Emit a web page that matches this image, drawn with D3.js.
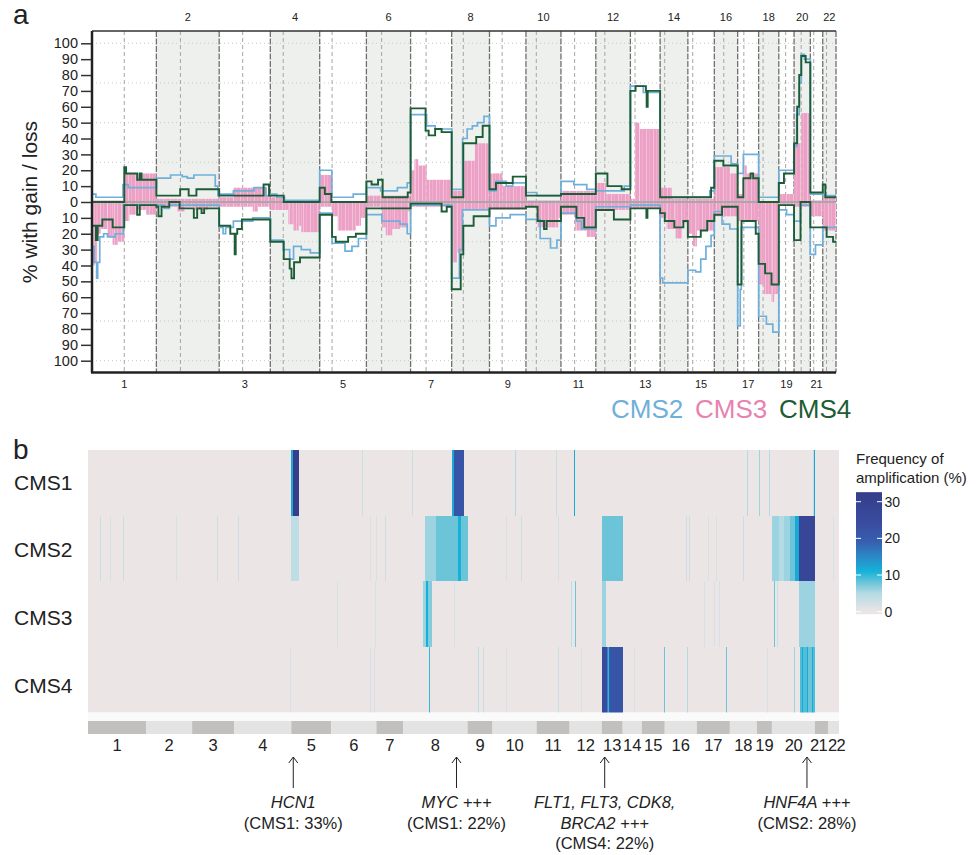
<!DOCTYPE html>
<html lang="en">
<head>
<meta charset="UTF-8">
<title>CMS copy number</title>
<script src="https://cdn.jsdelivr.net/npm/d3@7"></script>
<style>
    html, body { margin:0; background:#fff; }
    body { width:978px; height:855px; overflow:hidden; }
    svg { font-family: Arial, "Liberation Sans", Helvetica, sans-serif; }
</style>
</head>
<body>
<svg id="fig" width="978" height="855"></svg>
<script>
// ---- chromosomes (Mb) ----
var chromLen = [249.3, 243.2, 198.0, 191.2, 180.9, 171.1, 159.1, 146.4, 141.2, 135.5, 135.0,
                133.9, 115.2, 107.3, 102.5, 90.4, 81.2, 78.1, 59.1, 63.0, 48.1, 51.3];
var centromere = [125, 93, 91, 50, 48, 59, 60, 45, 49, 40, 53, 35, 18, 17.6, 19, 36.6, 24, 17.2, 26.5, 27.5, 13.2, 14.7];

// ---- panel a: % gain / loss, steps as [chr, start Mb, value] ----
var cms2Gain = [[1,0,5],[1,15,3],[1,120,11],[1,140,9],
  [2,0,15],[2,55,17],[2,100,16],[2,120,15],[2,145,17],[2,228,10],[2,238,4],
  [3,0,5],[3,55,7],[3,135,9],[3,180,4],[4,0,5],[4,25,3],[4,55,1],
  [5,0,20],[5,47,3],[5,130,5],[6,0,9],[6,55,7],[6,120,9],[6,158,12],
  [7,0,55],[7,62,48],[7,95,46],[8,0,8],[8,42,40],[8,60,46],[8,80,48],[8,100,50],[8,125,54],
  [9,0,7],[9,25,13],[9,65,10],[9,90,12],[10,0,6],[10,42,4],[11,0,13],[11,50,11],[11,100,8],
  [12,0,7],[12,110,10],[13,0,73],[13,50,69],[14,0,3],[15,0,3],[15,85,7],[16,0,29],[16,65,24],
  [17,0,18],[17,22,30],[18,0,3],[19,0,20],[20,0,35],[20,10,55],[20,20,75],[20,28,93],[20,40,90],
  [21,0,5],[22,0,4]];
var cms2Loss = [[1,0,-28],[1,8,-38],[1,18,-48],[1,22,-38],[1,30,-22],[1,45,-20],[1,60,-22],[1,90,-20],[1,122,-2],
  [2,0,-2],[2,30,-4],[2,50,-2],[3,0,-16],[3,15,-20],[3,25,-16],[3,55,-12],[3,130,-10],
  [4,0,-24],[4,50,-30],[4,75,-36],[4,90,-28],[4,120,-30],[4,155,-32],
  [5,0,-7],[5,48,-26],[5,98,-31],[5,125,-28],[5,150,-23],[6,0,-8],[6,60,-12],[6,130,-14],[6,158,-20],
  [7,0,-2],[8,0,-48],[8,30,-30],[8,42,-5],[9,0,-15],[9,25,-10],[9,80,-8],
  [10,0,-11],[10,55,-23],[10,95,-29],[10,120,-24],[11,0,-7],[11,60,-12],[11,80,-17],
  [12,0,-3],[13,0,-2],[14,0,-48],[14,10,-51],[15,0,-43],[15,30,-44],[15,50,-36],[15,70,-28],[15,90,-21],
  [16,0,-6],[16,30,-14],[16,60,-17],[17,0,-78],[17,10,-55],[17,14,-16],
  [18,0,-72],[18,30,-77],[18,55,-82],[19,0,-5],[19,30,-8],[20,0,-12],[20,25,-2],
  [21,0,-33],[21,20,-27],[22,0,-16]];
var cms3Gain = [[1,0,1],[1,125,18],[2,0,2],[3,0,3],[3,55,9],[3,185,4],[4,0,3],[4,55,0],
  [5,0,17],[5,45,0],[6,0,4],[7,0,20],[7,15,27],[7,30,23],[7,62,14],[8,0,7],[8,42,26],[8,90,37],
  [9,0,18],[9,50,10],[10,0,1],[11,0,7],[12,0,12],[12,40,5],[13,0,2],[13,18,50],[13,35,46],
  [14,0,9],[14,45,2],[15,0,2],[16,0,22],[16,60,18],[17,0,5],[17,20,23],[17,35,18],[18,0,0],
  [19,0,5],[20,0,37],[20,28,56],[21,0,1],[22,0,3]];
var cms3Loss = [[1,0,-40],[1,10,-38],[1,20,-20],[1,35,-17],[1,60,-22],[1,80,-27],[1,100,-25],[1,125,-12],[1,145,-8],[1,175,-5],[1,210,-8],
  [2,0,-3],[2,80,-6],[2,110,-3],[2,150,-5],[2,200,-3],[3,0,-3],[3,130,-6],[3,150,-3],
  [4,0,-5],[4,70,-14],[4,90,-18],[4,110,-15],[4,120,-19],[5,0,-3],[5,48,-9],[5,70,-18],[5,140,-15],[5,160,-10],
  [6,0,-3],[6,60,-16],[6,75,-21],[6,100,-17],[6,130,-16],[6,160,-6],[7,0,-3],
  [8,0,-38],[8,20,-32],[8,40,-5],[9,0,-5],[10,0,-3],[10,45,-16],[10,125,-10],
  [11,0,-8],[11,55,-18],[11,100,-22],[12,0,-5],[13,0,-4],[14,0,-10],[14,25,-17],[14,60,-23],[14,85,-13],
  [15,0,-20],[15,20,-28],[15,35,-18],[16,0,-9],[17,0,-12],[18,0,-52],[18,20,-58],[18,50,-63],[18,60,-58],
  [19,0,-2],[20,0,-3],[21,0,-9],[22,0,-18]];
var cms4Gain = [[1,0,0],[1,125,22],[1,132,18],[1,175,14],[1,185,18],[1,192,14],
  [2,0,4],[2,92,8],[2,125,4],[2,155,8],[3,0,4],[3,172,11],[3,193,4],[4,0,4],[4,52,0],
  [5,0,9],[5,20,5],[5,45,0],[6,0,13],[6,20,11],[6,45,14],[6,63,3],[6,160,6],
  [7,0,59],[7,58,45],[7,70,42],[7,95,46],[7,120,44],[8,0,3],[8,45,37],[8,95,41],[8,120,48],
  [9,0,8],[9,25,12],[9,90,16],[10,0,4],[11,0,5],[12,0,18],[12,45,10],[12,100,8],
  [13,0,70],[13,20,73],[13,60,70],[13,63,60],[13,67,70],[14,0,3],[15,0,3],[15,90,9],
  [16,0,26],[16,35,23],[17,0,3],[17,22,15],[17,50,18],[17,60,15],[18,0,0],[19,0,12],[19,20,18],
  [20,0,37],[20,12,60],[20,20,80],[20,28,92],[20,45,88],[21,0,6],[22,0,11],[22,10,3]];
var cms4Loss = [[1,0,-15],[1,15,-24],[1,22,-15],[1,40,-11],[1,80,-16],[1,125,-2],[1,175,-8],[1,185,-2],
  [2,0,-3],[2,8,-9],[2,20,-3],[2,50,0],[2,90,-4],[2,145,-10],[2,158,-4],[2,175,-7],[2,185,-4],
  [3,0,-15],[3,43,-20],[3,60,-33],[3,64,-20],[3,70,-17],[3,88,-11],
  [4,0,-25],[4,52,-36],[4,75,-42],[4,82,-48],[4,92,-38],[4,115,-35],
  [5,0,-8],[5,48,-22],[5,62,-25],[5,110,-22],[5,140,-20],[6,0,-4],[7,0,-1],[7,120,-6],[7,140,-3],
  [8,0,-55],[8,35,-33],[8,45,-15],[8,85,-9],[9,0,-4],[10,0,-3],[10,45,-12],[10,70,-17],[10,80,-12],
  [11,0,-3],[11,60,-10],[11,90,-16],[12,0,-5],[12,70,-11],[13,0,-4],[13,62,-10],[13,66,-4],
  [14,0,-7],[14,18,-12],[14,55,-16],[14,90,-12],[15,0,-22],[15,50,-18],[15,75,-12],
  [16,0,-8],[16,30,-3],[17,0,-52],[17,15,-12],[17,70,-20],[18,0,-39],[18,25,-45],[18,50,-52],
  [19,0,-2],[20,0,-24],[20,25,0],[21,0,-16],[22,0,-16],[22,15,-22],[22,40,-25]];

// ---- panel b: amplification frequency, [chr, start bin, end bin, %] ----
var hmChromSize = [58,46,42,57,40,45,27,64,25,44,33,32,21,19,23,32,33,27,15,43,13,11];
var hmRows = ["CMS1", "CMS2", "CMS3", "CMS4"];
var hmCMS1 = [[5,0,2,12],[5,2,8,33],[6,31,32,3],[8,9,10,3],[8,49,51,12],[8,51,60,22],[10,22,23,5],
  [11,19,20,3],[12,4,5,12],[18,17,18,5],[19,2,3,6],[19,12,13,5],[20,41,42,4],[20,42,43,12]];
var hmCMS2 = [[1,12,13,3],[1,22,23,2],[1,35,36,3],[2,30,31,2],[3,25,26,3],[4,4,5,3],[5,0,8,4],
  [6,39,40,2],[7,0,1,2],[7,9,10,3],[8,22,33,6],[8,33,55,8],[8,55,58,11],[8,58,64,8],
  [10,13,14,2],[10,28,29,3],[11,21,22,2],[13,0,21,8],[16,21,22,3],[16,24,25,3],[17,11,12,2],
  [17,19,20,2],[18,13,14,3],[20,0,7,6],[20,7,12,5],[20,12,18,6],[20,18,23,8],[20,23,27,12],
  [20,27,43,28],[22,5,6,2]];
var hmCMS3 = [[6,6,7,2],[6,44,45,2],[8,20,23,6],[8,23,25,11],[8,25,29,7],[8,51,52,2],[12,1,2,4],
  [12,5,6,8],[13,0,4,6],[17,7,8,2],[17,17,18,2],[17,22,23,2],[20,2,3,8],[20,5,6,3],[20,27,43,6]];
var hmCMS4 = [[4,56,57,2],[6,39,40,2],[6,43,44,2],[8,26,27,10],[9,10,11,4],[9,15,16,3],[10,13,14,2],
  [11,21,22,3],[12,11,12,2],[13,0,5,25],[13,5,6,15],[13,6,7,10],[13,7,8,20],[13,8,21,22],
  [14,11,12,2],[15,22,23,8],[16,22,23,5],[17,29,30,8],[19,10,11,2],[20,22,23,6],[20,28,30,9],
  [20,30,31,12],[20,31,35,9],[20,35,36,12],[20,36,40,8],[20,40,41,12],[20,41,43,9]];
var legendTicks = [0, 10, 20, 30];

var genes = [
  {chr:5, bin:2, lines:[["HCN1", true], ["(CMS1: 33%)", false]]},
  {chr:8, bin:53, lines:[["MYC +++", true], ["(CMS1: 22%)", false]]},
  {chr:13, bin:3, lines:[["FLT1, FLT3, CDK8,", true], ["BRCA2 +++", true], ["(CMS4: 22%)", false]]},
  {chr:20, bin:35, lines:[["HNF4A +++", true], ["(CMS2: 28%)", false]]}
];

var colCMS2 = "#6fb0db", colCMS3 = "#eca0c5", colCMS4 = "#1c5c36";

var svg = d3.select("#fig");
var defs = svg.append("defs");

// light streaks inside the CMS3 bars
var pat = defs.append("pattern").attr("id", "pinkStreak").attr("patternUnits", "userSpaceOnUse")
    .attr("width", 7).attr("height", 10);
pat.append("rect").attr("width", 7).attr("height", 10).attr("fill", colCMS3);
pat.append("rect").attr("x", 2).attr("width", 0.7).attr("height", 10).attr("fill", "#f6cfe1");
pat.append("rect").attr("x", 5.2).attr("width", 0.5).attr("height", 10).attr("fill", "#f3c0d8");

// ========== panel a ==========
var chromStart = [], acc = 0;
chromLen.forEach(function(l) { chromStart.push(acc); acc += l; });
var genomeLen = acc;

var x = d3.scaleLinear().domain([0, genomeLen]).range([92, 836]);
var y = d3.scaleLinear().domain([-100, 100]).range([360.7, 43.3]);
var plotTop = 31, plotBottom = 372.5;

function segs(data) {
    return data.map(function(d, i) {
        var nx = data[i + 1];
        var end = (nx && nx[0] === d[0]) ? nx[1] : chromLen[d[0] - 1];
        var off = chromStart[d[0] - 1];
        return {gs: off + d[1], ge: off + end, v: d[2]};
    });
}
function stepPts(sg) {
    var pts = sg.map(function(d) { return [d.gs, d.v]; });
    var last = sg[sg.length - 1];
    pts.push([last.ge, last.v]);
    return pts;
}
var stepLine = d3.line()
    .x(function(d) { return x(d[0]); })
    .y(function(d) { return y(d[1]); })
    .curve(d3.curveStepAfter);

var ga = svg.append("g");

// shading of even chromosomes
ga.selectAll("rect.shade")
    .data(chromLen.map(function(l, i) { return i; }).filter(function(i) { return i % 2 === 1; }))
    .enter().append("rect")
    .attr("x", function(i) { return x(chromStart[i]); })
    .attr("width", function(i) { return x(chromStart[i] + chromLen[i]) - x(chromStart[i]); })
    .attr("y", plotTop).attr("height", plotBottom - plotTop)
    .attr("fill", "#eef0ed");

// dotted grid
ga.selectAll("line.grid")
    .data([-100, -75, -50, -25, 25, 50, 75, 100])
    .enter().append("line")
    .attr("x1", x(0)).attr("x2", x(genomeLen))
    .attr("y1", function(d) { return y(d); }).attr("y2", function(d) { return y(d); })
    .attr("stroke", "#c8c8c8").attr("stroke-dasharray", "1,3");

// centromeres
ga.selectAll("line.cen")
    .data(centromere)
    .enter().append("line")
    .attr("x1", function(c, i) { return x(chromStart[i] + c); })
    .attr("x2", function(c, i) { return x(chromStart[i] + c); })
    .attr("y1", plotTop).attr("y2", plotBottom)
    .attr("stroke", "#a5a5a5").attr("stroke-dasharray", "4,3");

// chromosome boundaries
ga.selectAll("line.bound")
    .data(chromStart.slice(1).concat([genomeLen]))
    .enter().append("line")
    .attr("x1", function(d) { return x(d); }).attr("x2", function(d) { return x(d); })
    .attr("y1", plotTop).attr("y2", plotBottom)
    .attr("stroke", "#707070").attr("stroke-width", 1.3).attr("stroke-dasharray", "6,1.5");

// CMS3 bars
[cms3Gain, cms3Loss].forEach(function(ser) {
    ga.append("g").selectAll("rect")
        .data(segs(ser))
        .enter().append("rect")
        .attr("x", function(d) { return x(d.gs); })
        .attr("width", function(d) { return x(d.ge) - x(d.gs); })
        .attr("y", function(d) { return Math.min(y(d.v), y(0)); })
        .attr("height", function(d) { return Math.abs(y(d.v) - y(0)); })
        .attr("fill", "url(#pinkStreak)");
});

// zero line
ga.append("line")
    .attr("x1", x(0)).attr("x2", x(genomeLen))
    .attr("y1", y(0)).attr("y2", y(0))
    .attr("stroke", "#a8a8a8").attr("stroke-width", 2);

// CMS2 and CMS4 step lines
[[cms2Gain, colCMS2, 1.7], [cms2Loss, colCMS2, 1.7], [cms4Gain, colCMS4, 1.9], [cms4Loss, colCMS4, 1.9]]
    .forEach(function(s) {
        ga.append("path")
            .datum(stepPts(segs(s[0])))
            .attr("d", stepLine)
            .attr("fill", "none")
            .attr("stroke", s[1]).attr("stroke-width", s[2]);
    });

// frame
ga.append("line").attr("x1", x(0)).attr("x2", x(genomeLen)).attr("y1", plotTop).attr("y2", plotTop)
    .attr("stroke", "#333").attr("stroke-width", 1.5);
ga.append("line").attr("x1", x(0) - 1).attr("x2", x(genomeLen)).attr("y1", plotBottom).attr("y2", plotBottom)
    .attr("stroke", "#222").attr("stroke-width", 2.5);
ga.append("line").attr("x1", x(0)).attr("x2", x(0)).attr("y1", plotTop).attr("y2", plotBottom)
    .attr("stroke", "#222").attr("stroke-width", 2.5);

// y axis
var yAxis = d3.axisLeft(y)
    .tickValues(d3.range(-100, 101, 10))
    .tickFormat(function(d) { return Math.abs(d); })
    .tickSize(10).tickPadding(3);
var gy = ga.append("g").attr("transform", "translate(" + (x(0) - 1) + ",0)").call(yAxis);
gy.select(".domain").remove();
gy.selectAll(".tick line").attr("stroke", "#333").attr("stroke-width", 1.5);
gy.selectAll(".tick text").attr("font-size", 14.5).attr("fill", "#222")
    .attr("font-family", "Arial, 'Liberation Sans', sans-serif");

ga.append("text")
    .attr("transform", "translate(37,202) rotate(-90)")
    .attr("text-anchor", "middle").attr("font-size", 21).attr("fill", "#222")
    .text("% with gain / loss");

// chromosome numbers
ga.selectAll("text.cnum")
    .data(chromLen)
    .enter().append("text")
    .attr("x", function(l, i) { return x(chromStart[i] + l / 2); })
    .attr("y", function(l, i) { return i % 2 === 1 ? 21 : 388; })
    .attr("text-anchor", "middle").attr("font-size", 11).attr("fill", "#222")
    .text(function(l, i) { return i + 1; });

ga.append("text").attr("x", 13).attr("y", 24).attr("font-size", 28).attr("fill", "#222").text("a");

// legend
[["CMS2", colCMS2, 611], ["CMS3", "#e882b1", 695], ["CMS4", colCMS4, 779]].forEach(function(l) {
    ga.append("text").attr("x", l[2]).attr("y", 418).attr("font-size", 26)
        .attr("fill", l[1]).text(l[0]);
});

// ========== panel b ==========
var hmStart = [], acc2 = 0;
hmChromSize.forEach(function(s) { hmStart.push(acc2); acc2 += s; });
var hmTotal = acc2;
var hx = d3.scaleLinear().domain([0, hmTotal]).range([88, 839]);
var hy = d3.scaleBand().domain(hmRows).range([450, 712.5]);
var freqStops = [0, 5, 8, 11, 15, 19, 24, 33];
var freqCols = ["#ebe5e6", "#b3dbe3", "#6cc4d9", "#14b2d9", "#2b89c6", "#3660b0", "#3a4c9f", "#343e8b"];
var color = d3.scaleLinear().domain(freqStops).range(freqCols).clamp(true);

var gb = svg.append("g");
gb.append("rect").attr("x", hx(0)).attr("width", hx(hmTotal) - hx(0))
    .attr("y", hy.range()[0]).attr("height", hy.range()[1] - hy.range()[0])
    .attr("fill", color(0));

[hmCMS1, hmCMS2, hmCMS3, hmCMS4].forEach(function(rowData, r) {
    gb.append("g").selectAll("rect")
        .data(rowData)
        .enter().append("rect")
        .attr("x", function(d) { return hx(hmStart[d[0] - 1] + d[1]); })
        .attr("width", function(d) { return hx(hmStart[d[0] - 1] + d[2]) - hx(hmStart[d[0] - 1] + d[1]); })
        .attr("y", hy(hmRows[r]))
        .attr("height", hy.bandwidth())
        .attr("fill", function(d) { return color(d[3]); })
        .attr("shape-rendering", "crispEdges");
});

// row labels
var rowBase = [490, 557, 625, 693];
gb.selectAll("text.row")
    .data(hmRows)
    .enter().append("text")
    .attr("x", 14).attr("y", function(d, i) { return rowBase[i]; })
    .attr("font-size", 21).attr("fill", "#222")
    .text(function(d) { return d; });

gb.append("text").attr("x", 13).attr("y", 459).attr("font-size", 28).attr("fill", "#222").text("b");

// strip + chromosome bar
gb.append("rect").attr("x", hx(0)).attr("width", hx(hmTotal) - hx(0))
    .attr("y", 712.5).attr("height", 8.5).attr("fill", "#fafafa");
gb.selectAll("rect.cbar")
    .data(hmChromSize)
    .enter().append("rect")
    .attr("x", function(s, i) { return hx(hmStart[i]); })
    .attr("width", function(s, i) { return hx(hmStart[i] + s) - hx(hmStart[i]); })
    .attr("y", 721).attr("height", 13)
    .attr("fill", function(s, i) { return i % 2 === 0 ? "#c1c0be" : "#e3e3e3"; });

// the last two labels sit tight together, as in the figure
var numShift = d3.range(22).map(function(i) { return i === 20 ? -3 : (i === 21 ? 3 : 0); });
gb.selectAll("text.hnum")
    .data(hmChromSize)
    .enter().append("text")
    .attr("x", function(s, i) { return hx(hmStart[i] + s / 2) + numShift[i]; })
    .attr("y", 751)
    .attr("text-anchor", "middle").attr("font-size", 16.5).attr("fill", "#222")
    .attr("letter-spacing", function(s, i) { return i >= 19 ? -0.6 : 0; })
    .text(function(s, i) { return i + 1; });

// gene annotations
genes.forEach(function(g) {
    var gx = hx(hmStart[g.chr - 1] + g.bin);
    gb.append("line").attr("x1", gx).attr("x2", gx).attr("y1", 757).attr("y2", 788)
        .attr("stroke", "#222").attr("stroke-width", 1);
    gb.append("path").attr("d", "M" + (gx - 4.5) + "," + 763 + "L" + gx + "," + 757 + "L" + (gx + 4.5) + "," + 763)
        .attr("fill", "none").attr("stroke", "#222").attr("stroke-width", 1);
    g.lines.forEach(function(ln, k) {
        gb.append("text").attr("x", gx).attr("y", 808 + k * 20.5)
            .attr("text-anchor", "middle").attr("font-size", 16.5).attr("fill", "#222")
            .attr("font-style", ln[1] ? "italic" : "normal")
            .text(ln[0]);
    });
});

// colour legend
var ly = d3.scaleLinear().domain([0, 30]).range([611.7, 501.7]);
var grad = defs.append("linearGradient").attr("id", "freqGrad")
    .attr("x1", 0).attr("x2", 0).attr("y1", 1).attr("y2", 0);
var lo = -0.7, hi = 32.6;
freqStops.forEach(function(s, i) {
    grad.append("stop").attr("offset", ((s - lo) / (hi - lo) * 100) + "%").attr("stop-color", freqCols[i]);
});
gb.append("rect").attr("x", 856).attr("width", 26)
    .attr("y", ly(hi)).attr("height", ly(lo) - ly(hi))
    .attr("fill", "url(#freqGrad)");
legendTicks.forEach(function(t) {
    gb.append("line").attr("x1", 856).attr("x2", 861).attr("y1", ly(t)).attr("y2", ly(t))
        .attr("stroke", "#fff").attr("stroke-width", 1);
    gb.append("line").attr("x1", 877).attr("x2", 882).attr("y1", ly(t)).attr("y2", ly(t))
        .attr("stroke", "#fff").attr("stroke-width", 1);
    gb.append("text").attr("x", 884.5).attr("y", ly(t) + 5)
        .attr("font-size", 14).attr("fill", "#222").text(t);
});
gb.append("text").attr("x", 856).attr("y", 464).attr("font-size", 15).attr("fill", "#222").text("Frequency of");
gb.append("text").attr("x", 856).attr("y", 483).attr("font-size", 15).attr("fill", "#222").text("amplification (%)");
</script>
</body>
</html>
